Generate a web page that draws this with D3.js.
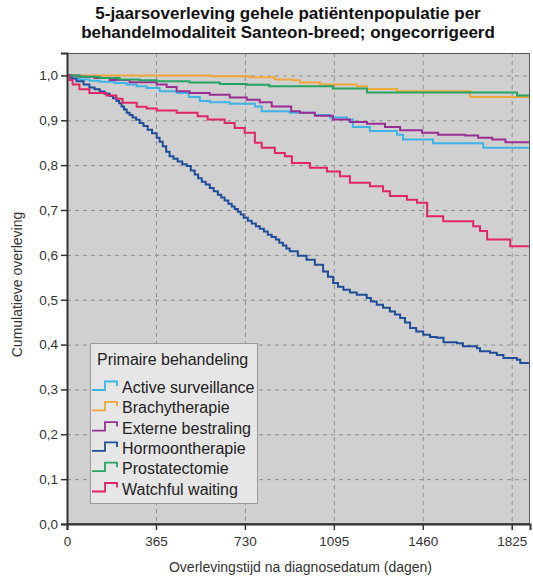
<!DOCTYPE html>
<html>
<head>
<meta charset="utf-8">
<script src="https://cdn.jsdelivr.net/npm/d3@7"></script>
<style>
  html, body { margin: 0; padding: 0; background: #ffffff; }
  svg { display: block; font-family: "Liberation Sans", Arial, sans-serif; }
</style>
</head>
<body>
<svg id="chart" width="533" height="578"></svg>
<script>
// Kaplan-Meier estimates per primary treatment: [days since diagnosis, cumulative survival]
const categories = ["Active surveillance", "Brachytherapie", "Externe bestraling", "Hormoontherapie", "Prostatectomie", "Watchful waiting"];

const activeSurveillance = [[0,1.000],[18,0.993],[51,0.991],[92,0.988],[134,0.986],[195,0.983],[245,0.980],[286,0.976],[327,0.972],[380,0.965],[450,0.961],[500,0.952],[545,0.943],[586,0.940],[668,0.937],[771,0.931],[799,0.920],[914,0.917],[1017,0.912],[1079,0.906],[1149,0.902],[1173,0.885],[1243,0.876],[1354,0.868],[1379,0.857],[1502,0.849],[1708,0.839],[1900,0.839]];

const brachytherapie = [[0,1.000],[586,0.998],[750,0.996],[853,0.991],[927,0.989],[956,0.984],[1038,0.980],[1190,0.976],[1231,0.970],[1354,0.965],[1654,0.952],[1900,0.952]];

const externeBestraling = [[0,1.000],[51,0.997],[113,0.994],[175,0.990],[257,0.985],[368,0.980],[409,0.974],[450,0.965],[503,0.961],[586,0.957],[668,0.951],[738,0.946],[791,0.940],[840,0.931],[920,0.920],[956,0.917],[1017,0.910],[1091,0.902],[1161,0.896],[1231,0.892],[1305,0.885],[1367,0.878],[1457,0.872],[1523,0.868],[1634,0.866],[1687,0.861],[1745,0.857],[1799,0.851],[1900,0.851]];

const hormoontherapie = [[0,1.000],[18,0.993],[39,0.987],[68,0.980],[92,0.973],[113,0.969],[134,0.964],[154,0.959],[175,0.954],[189,0.949],[203,0.943],[214,0.938],[224,0.931],[234,0.924],[245,0.917],[257,0.912],[269,0.906],[284,0.901],[298,0.894],[314,0.887],[331,0.879],[349,0.871],[368,0.861],[380,0.852],[393,0.842],[407,0.830],[421,0.820],[437,0.814],[454,0.808],[473,0.802],[491,0.798],[508,0.788],[524,0.779],[538,0.771],[553,0.763],[569,0.757],[586,0.749],[602,0.742],[619,0.734],[633,0.728],[647,0.721],[662,0.714],[676,0.708],[688,0.702],[701,0.696],[713,0.690],[725,0.683],[742,0.676],[758,0.670],[775,0.664],[791,0.658],[808,0.652],[824,0.645],[840,0.640],[857,0.634],[871,0.627],[886,0.621],[900,0.614],[914,0.608],[947,0.598],[983,0.589],[1017,0.578],[1051,0.563],[1071,0.551],[1092,0.537],[1112,0.529],[1134,0.522],[1161,0.516],[1189,0.511],[1230,0.504],[1247,0.496],[1271,0.489],[1297,0.482],[1325,0.474],[1346,0.467],[1367,0.459],[1387,0.449],[1408,0.437],[1433,0.429],[1462,0.422],[1490,0.417],[1517,0.415],[1545,0.405],[1600,0.403],[1625,0.396],[1682,0.392],[1695,0.385],[1736,0.382],[1764,0.377],[1791,0.370],[1846,0.366],[1860,0.359],[1900,0.359]];

const prostatectomie = [[0,1.000],[51,0.997],[134,0.994],[216,0.991],[298,0.989],[368,0.987],[503,0.984],[627,0.981],[738,0.979],[830,0.976],[1091,0.971],[1231,0.962],[1847,0.955],[1900,0.955]];

const watchfulWaiting = [[0,1.000],[10,0.990],[23,0.980],[51,0.969],[92,0.961],[162,0.955],[203,0.948],[228,0.939],[286,0.930],[327,0.926],[368,0.922],[450,0.917],[536,0.909],[577,0.902],[647,0.894],[688,0.883],[729,0.872],[771,0.850],[799,0.839],[853,0.827],[894,0.820],[923,0.805],[997,0.794],[1067,0.786],[1120,0.775],[1161,0.761],[1243,0.753],[1297,0.742],[1325,0.731],[1395,0.723],[1436,0.716],[1478,0.686],[1544,0.675],[1667,0.664],[1695,0.653],[1724,0.634],[1819,0.619],[1900,0.619]];

const seriesValues = [activeSurveillance, brachytherapie, externeBestraling, hormoontherapie, prostatectomie, watchfulWaiting];
const seriesColors = ["#3db3e6", "#f0a73a", "#992e94", "#1f4e98", "#26a462", "#e2246a"];

const xTicks = [0, 365, 730, 1095, 1460, 1825];
const yTicks = [0, 0.1, 0.2, 0.3, 0.4, 0.5, 0.6, 0.7, 0.8, 0.9, 1.0];

const titleLines = ["5-jaarsoverleving gehele patiëntenpopulatie per", "behandelmodaliteit Santeon-breed; ongecorrigeerd"];
const xLabel = "Overlevingstijd na diagnosedatum (dagen)";
const yLabel = "Cumulatieve overleving";
const legendTitle = "Primaire behandeling";

// Layout
const W = 533, H = 578;
const margin = { top: 53, right: 3, bottom: 54, left: 67 };
const pw = W - margin.left - margin.right;
const ph = H - margin.top - margin.bottom;

const svg = d3.select("#chart");

const x = d3.scaleLinear().domain([0, 1900]).range([0, pw]);
const y = d3.scaleLinear().domain([0, 1.05]).range([ph, 0]);

const g = svg.append("g").attr("transform", `translate(${margin.left},${margin.top})`);

// Plot background
g.append("rect").attr("x", 0).attr("y", 0).attr("width", pw).attr("height", ph)
  .attr("fill", "#d0d0d0");

// Dashed reference grid
g.append("g").selectAll("line.gy").data(yTicks.filter(d => d > 0)).join("line")
  .attr("x1", 0).attr("x2", pw)
  .attr("y1", d => y(d) + 0.5).attr("y2", d => y(d) + 0.5)
  .attr("stroke", "#8e8e8e").attr("stroke-width", 1).attr("stroke-dasharray", "4,4");
g.append("g").selectAll("line.gx").data(xTicks.filter(d => d > 0)).join("line")
  .attr("y1", 0).attr("y2", ph)
  .attr("x1", d => x(d) + 0.5).attr("x2", d => x(d) + 0.5)
  .attr("stroke", "#8e8e8e").attr("stroke-width", 1).attr("stroke-dasharray", "4,4");

// Survival curves
const line = d3.line().x(d => x(d[0])).y(d => y(d[1])).curve(d3.curveStepAfter);
g.append("g").selectAll("path.curve").data(seriesValues).join("path")
  .attr("class", "curve")
  .attr("d", d => line(d))
  .attr("fill", "none")
  .attr("stroke", (d, i) => seriesColors[i])
  .attr("stroke-width", 2)
  .attr("stroke-linejoin", "miter");

// Plot frame
g.append("rect").attr("x", 0.5).attr("y", 0.5).attr("width", pw - 1).attr("height", ph - 1)
  .attr("fill", "none").attr("stroke", "#5a5a5a").attr("stroke-width", 1);

// Axes
const yAxis = d3.axisLeft(y).tickValues(yTicks).tickSize(6).tickPadding(3)
  .tickFormat(d => d3.format(".1f")(d).replace(".", ","));
const xAxis = d3.axisBottom(x).tickValues(xTicks).tickSize(6).tickPadding(6)
  .tickFormat(d3.format("d"));

const ya = g.append("g").call(yAxis);
const xa = g.append("g").attr("transform", `translate(0,${ph})`).call(xAxis);
[ya, xa].forEach(a => {
  a.select(".domain").attr("stroke", "#333").attr("stroke-width", 2);
  a.selectAll(".tick line").attr("stroke", "#333").attr("stroke-width", 1.5);
  a.selectAll(".tick text").attr("fill", "#333").style("font-size", "13.5px")
    .style("font-family", "'Liberation Sans', Arial, sans-serif");
});

// Title
svg.append("text").attr("x", 288).attr("y", 19).attr("text-anchor", "middle")
  .style("font-size", "17px").style("font-weight", "bold").attr("fill", "#111")
  .selectAll("tspan").data(titleLines).join("tspan")
  .attr("x", 288).attr("dy", (d, i) => i === 0 ? 0 : 19).text(d => d);

// Axis titles
svg.append("text").attr("x", margin.left + pw / 2 + 2).attr("y", 572)
  .attr("text-anchor", "middle").style("font-size", "14px").attr("fill", "#333").text(xLabel);
svg.append("text").attr("transform", `translate(22,${margin.top + ph / 2 - 4}) rotate(-90)`)
  .attr("text-anchor", "middle").style("font-size", "14px").attr("fill", "#333").text(yLabel);

// Legend
const lg = svg.append("g").attr("transform", "translate(90,343)");
lg.append("rect").attr("x", 0.5).attr("y", 0.5).attr("width", 167).attr("height", 160)
  .attr("fill", "#e6e6e6").attr("stroke", "#9a9a9a").attr("stroke-width", 1);
lg.append("text").attr("x", 7).attr("y", 22).style("font-size", "16px").attr("fill", "#222")
  .text(legendTitle);
const items = lg.selectAll("g.item").data(categories).join("g")
  .attr("class", "item")
  .attr("transform", (d, i) => `translate(0,${50 + i * 20.3})`);
items.append("path")
  .attr("d", "M2,-3H15V-11.5H27V-7")
  .attr("fill", "none")
  .attr("stroke", (d, i) => seriesColors[i])
  .attr("stroke-width", 1.8);
items.append("text").attr("x", 32).attr("y", 0).style("font-size", "16px").attr("fill", "#222")
  .text(d => d);
</script>
</body>
</html>
